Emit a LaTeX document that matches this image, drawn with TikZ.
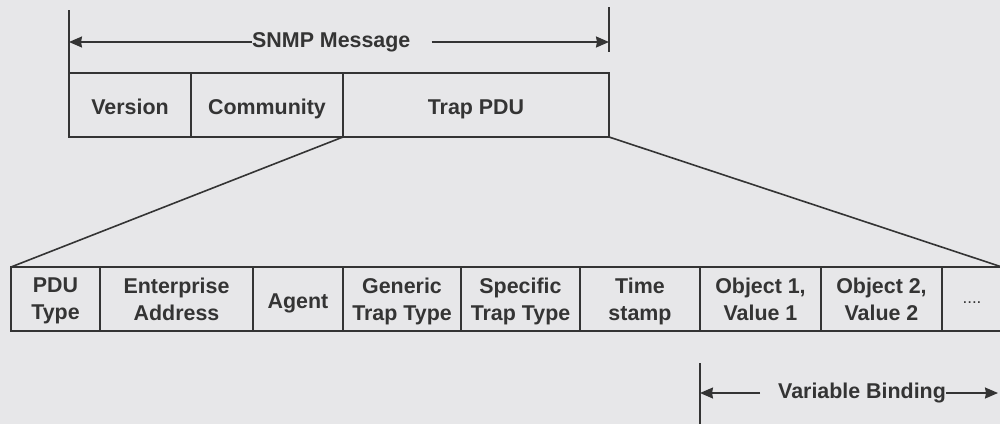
\documentclass[tikz,border=0pt]{standalone}
\usepackage{fontspec}
\setmainfont{Liberation Sans}
\usepackage{tikz}
\usetikzlibrary{arrows.meta,positioning}
\definecolor{paper}{RGB}{231,231,233}
\definecolor{ink}{RGB}{52,52,52}

\begin{document}
\begin{tikzpicture}[x=1pt,y=-1pt,>={Stealth[length=13pt,width=11pt,inset=1pt]},node distance=0pt,
  every node/.style={font=\bfseries\fontsize{21.4}{27}\selectfont,text=ink},
  field/.style={draw=ink,line width=2.2pt,fill=paper,outer sep=0pt,inner sep=0pt,minimum height=64,align=center,
    execute at begin node=\strut,text depth=0pt},
  dim/.style={ink,line width=1.6pt}]
  \path[use as bounding box,fill=paper] (0,0) rectangle (1000,424);

  % SNMP message
  \node[field,minimum width=122,anchor=north west] (ver) at (69,73) {Version};
  \node[field,minimum width=152] (com) [right=of ver] {Community};
  \node[field,minimum width=266] (trap) [right=of com] {Trap PDU};

  % fields of the trap PDU
  \node[field,minimum width=89,anchor=north west] (type) at (11,267) {PDU\\Type};
  \node[field,minimum width=153] (ent)   [right=of type]  {Enterprise\\Address};
  \node[field,minimum width=90]  (agent) [right=of ent]   {Agent};
  \node[field,minimum width=118] (gen)   [right=of agent] {Generic\\Trap Type};
  \node[field,minimum width=119] (spec)  [right=of gen]   {Specific\\Trap Type};
  \node[field,minimum width=120] (time)  [right=of spec]  {Time\\stamp};
  \node[field,minimum width=121] (obj1)  [right=of time]  {Object 1,\\Value 1};
  \node[field,minimum width=121] (obj2)  [right=of obj1]  {Object 2,\\Value 2};
  \node[field,minimum width=60]  (more)  [right=of obj2]  {\raisebox{5pt}{\mdseries\fontsize{17}{27}\selectfont....}};

  \path[dim] (trap.south west) edge (type.north west)
             (trap.south east) edge (more.north east);

  % SNMP Message span
  \coordinate (mL) at (69,42);
  \coordinate (mR) at (609,42);
  \node[inner sep=0pt,anchor=west] (msg) at (252,42) {SNMP Message};
  \draw[dim] (69,10) -- (ver.north west);
  \draw[dim] (609,7) -- (609,52);
  \path[dim,->] (msg.west) edge (mL)
                ([xshift=21pt]msg.east) edge (mR);

  % Variable Binding span
  \coordinate (vL) at (700,393);
  \coordinate (vR) at (998,393);
  \node[inner sep=0pt,anchor=west] (var) at (778,393) {Variable Binding};
  \draw[dim] (700,363) -- (700,424);
  \path[dim,->] ([xshift=-18pt]var.west) edge (vL)
                (var.east) edge (vR);
\end{tikzpicture}
\end{document}
